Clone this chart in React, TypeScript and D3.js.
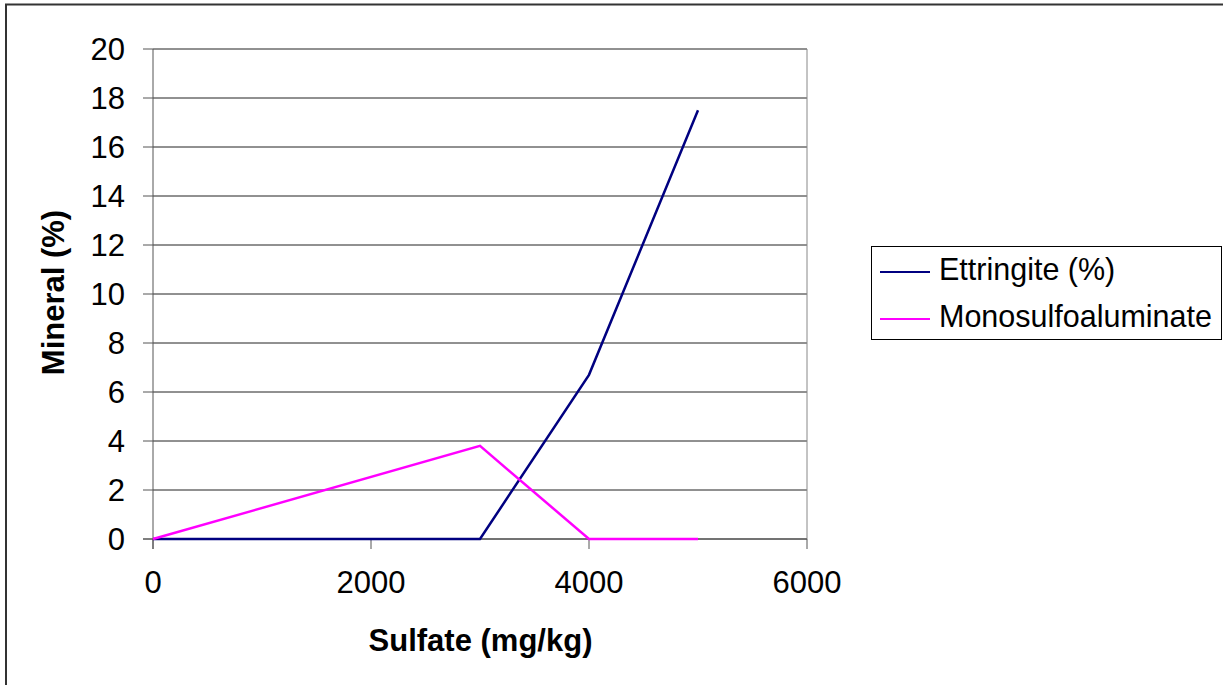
import React from "react";
import * as d3 from "d3";

const sulfate = [0, 3000, 4000, 5000];
const ettringite = [0, 0, 6.7, 17.5];
const monosulfo = [0, 3.8, 0, 0];
const seriesNames = ["Ettringite (%)", "Monosulfoaluminate"];
const seriesColors = ["#000080", "#FF00FF"];
const xTicks = [0, 2000, 4000, 6000];
const yTicks = [0, 2, 4, 6, 8, 10, 12, 14, 16, 18, 20];

const W = 1223;
const H = 685;
const FONT = "'Liberation Sans', Arial, sans-serif";
const FS = 31;

export default function App() {
  const x = d3.scaleLinear().domain([0, 6000]).range([153, 807]);
  const y = d3.scaleLinear().domain([0, 20]).range([539, 49]);
  const line = d3
    .line<[number, number]>()
    .x((d) => x(d[0]))
    .y((d) => y(d[1]));
  const series = [ettringite, monosulfo].map((vals) =>
    sulfate.map((s, i) => [s, vals[i]] as [number, number])
  );

  return (
    <svg
      width={W}
      height={H}
      style={{ position: "absolute", left: 0, top: 0, background: "#fff" }}
      fontFamily={FONT}
    >
      <rect x={0} y={0} width={W} height={H} fill="#fff" />
      {/* outer chart border */}
      <rect x={6} y={4.5} width={W + 20} height={H + 20} fill="none" stroke="#333" strokeWidth={2} />

      {/* gridlines */}
      {yTicks.map((t) => (
        <line key={"g" + t} x1={x(0)} x2={x(6000)} y1={y(t)} y2={y(t)} stroke="#222" strokeWidth={1} />
      ))}
      {/* plot area right border */}
      <line x1={x(6000)} x2={x(6000)} y1={y(20)} y2={y(0)} stroke="#888" strokeWidth={1} />

      {/* y axis */}
      <line x1={x(0)} x2={x(0)} y1={y(20)} y2={y(0) + 10} stroke="#555" strokeWidth={1} />
      {yTicks.map((t) => (
        <g key={"yt" + t}>
          <line x1={x(0) - 10} x2={x(0)} y1={y(t)} y2={y(t)} stroke="#555" strokeWidth={1} />
          <text x={125} y={y(t) + 11} textAnchor="end" fontSize={FS} fill="#000">
            {t}
          </text>
        </g>
      ))}

      {/* x axis */}
      <line x1={x(0) - 10} x2={x(6000)} y1={y(0)} y2={y(0)} stroke="#555" strokeWidth={1} />
      {xTicks.map((t) => (
        <g key={"xt" + t}>
          <line x1={x(t)} x2={x(t)} y1={y(0)} y2={y(0) + 10} stroke="#555" strokeWidth={1} />
          <text x={x(t)} y={593} textAnchor="middle" fontSize={FS} fill="#000">
            {t}
          </text>
        </g>
      ))}

      {/* series */}
      {series.map((pts, i) => (
        <path key={"s" + i} d={line(pts) || ""} fill="none" stroke={seriesColors[i]} strokeWidth={2.5} />
      ))}

      {/* axis titles */}
      <text
        transform={`translate(64,292.5) rotate(-90)`}
        textAnchor="middle"
        fontSize={FS}
        fontWeight="bold"
        fill="#000"
      >
        Mineral (%)
      </text>
      <text x={480.5} y={651} textAnchor="middle" fontSize={FS} fontWeight="bold" fill="#000">
        Sulfate (mg/kg)
      </text>

      {/* legend */}
      <rect x={871.5} y={246.5} width={350} height={93} fill="#fff" stroke="#000" strokeWidth={1} />
      {seriesNames.map((n, i) => (
        <g key={"l" + i}>
          <line
            x1={880}
            x2={930}
            y1={272 + i * 47}
            y2={272 + i * 47}
            stroke={seriesColors[i]}
            strokeWidth={2}
          />
          <text x={939} y={280 + i * 47} fontSize={30.5} fill="#000">
            {n}
          </text>
        </g>
      ))}
    </svg>
  );
}
